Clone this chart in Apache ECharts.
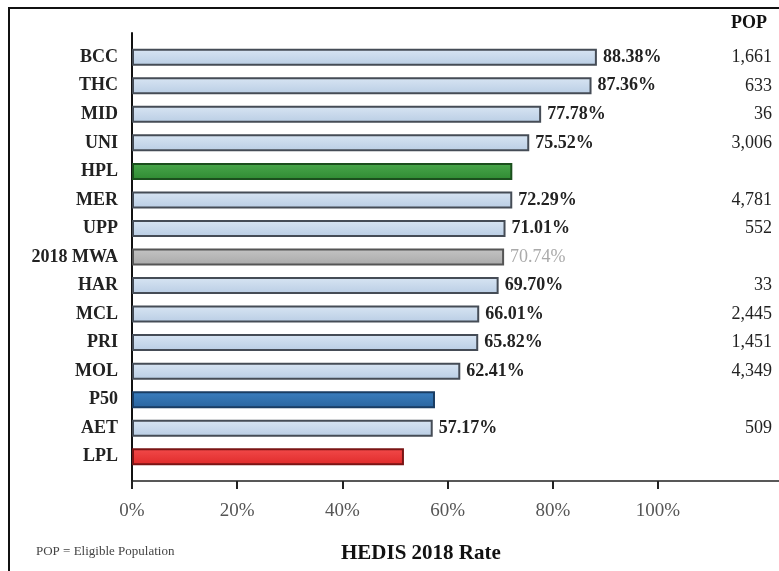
<!DOCTYPE html>
<html>
<head>
<meta charset="utf-8">
<script src="https://cdn.jsdelivr.net/npm/echarts@6/dist/echarts.min.js"></script>
<style>
html, body { margin: 0; padding: 0; background: #fff; }
#chart { width: 779px; height: 571px; }
</style>
</head>
<body>
<div id="chart"></div>
<script>
// categories top to bottom
const categories = ['BCC', 'THC', 'MID', 'UNI', 'HPL', 'MER', 'UPP', '2018 MWA', 'HAR', 'MCL', 'PRI', 'MOL', 'P50', 'AET', 'LPL'];
// HEDIS 2018 rate (%)
const rates = [88.38, 87.36, 77.78, 75.52, 72.3, 72.29, 71.01, 70.74, 69.70, 66.01, 65.82, 62.41, 57.6, 57.17, 51.7];
// eligible population
const pop = ['1,661', '633', '36', '3,006', '', '4,781', '552', '', '33', '2,445', '1,451', '4,349', '', '509', ''];
const tickValues = [0, 20, 40, 60, 80, 100];

const serif = '"Liberation Serif", "Times New Roman", serif';

// bar colours for the benchmark rows
const special = {
    'HPL': { fill: ['#4aa84c', '#2f8a32'], border: '#1b4f1d', label: false },
    '2018 MWA': { fill: ['#c4c4c4', '#a9a9a9'], border: '#555', label: 'grey' },
    'P50': { fill: ['#3b7fc0', '#2a649e'], border: '#1a3d63', label: false },
    'LPL': { fill: ['#f24a4a', '#e02a2a'], border: '#7a1414', label: false }
};

const barData = rates.map((v, i) => {
    const s = special[categories[i]];
    const fill = s ? s.fill : ['#d8e5f3', '#b9cde4'];
    const item = {
        value: v,
        itemStyle: {
            color: new echarts.graphic.LinearGradient(0, 0, 0, 1, [
                { offset: 0, color: fill[0] },
                { offset: 1, color: fill[1] }
            ]),
            borderColor: s ? s.border : '#454c56',
            borderWidth: 2
        }
    };
    if (s && s.label === false) item.label = { show: false };
    if (s && s.label === 'grey') item.label = { color: '#aaa', fontWeight: 'normal' };
    return item;
});

const myChart = echarts.init(document.getElementById('chart'));

const option = {
    backgroundColor: '#fff',
    animation: false,
    title: [
        {
            text: 'HEDIS 2018 Rate',
            left: 336, top: 538,
            textStyle: { fontFamily: serif, fontSize: 21, fontWeight: 'bold', color: '#111' }
        },
        {
            text: 'POP = Eligible Population',
            left: 31, top: 540,
            textStyle: { fontFamily: serif, fontSize: 13, fontWeight: 'normal', color: '#444' }
        },
        {
            text: 'POP',
            right: 7, top: 9,
            textStyle: { fontFamily: serif, fontSize: 18, fontWeight: 'bold', color: '#111' }
        }
    ],
    graphic: [
        {
            type: 'rect',
            shape: { x: 9, y: 8, width: 820, height: 620 },
            style: { fill: 'none', stroke: '#111', lineWidth: 2 },
            silent: true
        }
    ],
    grid: [
        { left: 132, right: 0, top: 43, bottom: 100 },
        { left: 132, right: 0, top: 33, bottom: 90 }
    ],
    xAxis: [
        { gridIndex: 0, type: 'value', min: 0, max: 123, show: false },
        {
            gridIndex: 1, type: 'value', min: 0, max: 123, interval: 20,
            axisLine: { show: true, lineStyle: { color: '#222', width: 1.5 } },
            axisTick: { show: true, length: 8, customValues: tickValues, lineStyle: { color: '#222', width: 2 } },
            axisLabel: {
                customValues: tickValues,
                formatter: v => v + '%',
                margin: 21,
                fontFamily: serif, fontSize: 19, color: '#555'
            },
            splitLine: { show: false }
        }
    ],
    yAxis: [
        {
            gridIndex: 0, type: 'category', inverse: true, data: categories,
            axisLine: { show: false }, axisTick: { show: false },
            axisLabel: { margin: 14, fontFamily: serif, fontSize: 18, fontWeight: 'bold', color: '#222' }
        },
        {
            gridIndex: 0, type: 'category', inverse: true, position: 'right', data: pop,
            axisLine: { show: false }, axisTick: { show: false },
            axisLabel: { inside: true, margin: 7, fontFamily: serif, fontSize: 18, color: '#222' }
        },
        {
            gridIndex: 1, type: 'value', min: 0, max: 1,
            axisLine: { show: true, lineStyle: { color: '#111', width: 2 } },
            axisTick: { show: false }, axisLabel: { show: false }, splitLine: { show: false }
        }
    ],
    series: [
        {
            name: 'HEDIS 2018 Rate',
            type: 'bar',
            xAxisIndex: 0,
            yAxisIndex: 0,
            barWidth: 17,
            data: barData,
            label: {
                show: true,
                position: 'right',
                distance: 6,
                formatter: p => p.value.toFixed(2) + '%',
                fontFamily: serif, fontSize: 18, fontWeight: 'bold', color: '#222'
            }
        }
    ]
};

myChart.setOption(option);
</script>
</body>
</html>
